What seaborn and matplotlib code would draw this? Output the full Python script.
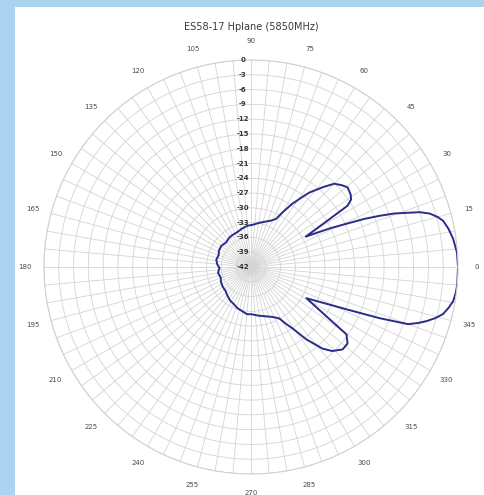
import numpy as np
import pandas as pd
import matplotlib
matplotlib.use("Agg")
import matplotlib.pyplot as plt
import matplotlib.transforms as mtransforms
from matplotlib.patches import Rectangle
import seaborn as sns

# ---- data ----
title = "ES58-17 Hplane (5850MHz)"
angles_deg = [0, 4, 8, 11, 13.5, 15, 16.6, 18, 19.2, 20.5, 21.7, 23, 24.4, 26, 27.5, 29,
              31.1, 32.4, 34, 36, 39.5, 42, 45, 48, 51.9, 54, 56.9, 60, 62.5, 67, 72,
              79.7, 87, 95, 103, 112, 120, 127, 135, 145, 153, 160, 168, 175, 182, 190,
              199.5, 206, 215, 223.5, 230, 238, 245, 252, 258, 265, 271, 279, 286, 293,
              298.8, 301.5, 304, 307.4, 311.2, 314, 318, 321.6, 324.8, 326.8, 330.6,
              334, 336.1, 338.3, 340, 341.5, 342.9, 344.5, 346.2, 348.5, 350.4, 353,
              355.3, 360]
gain_db = [0.0, -0.1, -0.6, -1.2, -1.9, -2.8, -4.1, -6.0, -8.6, -11.0, -13.9, -17.0, -20.8,
           -24.0, -27.0, -29.3, -24.3, -18.8, -17.5, -17.0, -16.6, -17.2, -18.1, -20.2,
           -22.8, -24.6, -26.7, -29.2, -31.0, -31.8, -32.3, -32.9, -33.4, -33.6, -34.0,
           -34.4, -34.5, -34.6, -34.9, -34.6, -34.7, -35.0, -34.8, -35.1, -35.6, -35.2,
           -35.5, -35.2, -35.0, -34.9, -34.5, -34.0, -33.7, -33.2, -32.9, -32.4, -32.4,
           -32.0, -31.6, -31.0, -30.1, -28.5, -27.0, -23.5, -20.0, -18.3, -17.0, -17.0,
           -18.3, -23.7, -29.1, -25.0, -20.8, -13.9, -8.1, -6.2, -4.7, -3.2, -1.9, -1.0,
           -0.4, -0.1, 0.0, 0.0]
angle_labels = [0, 15, 30, 45, 60, 75, 90, 105, 120, 135, 150, 165, 180, 195, 210,
                225, 240, 255, 270, 285, 300, 315, 330, 345]
radial_ticks = [0, -3, -6, -9, -12, -15, -18, -21, -24, -27, -30, -33, -36, -39, -42]

df = pd.DataFrame({"theta": np.deg2rad(angles_deg), "gain": gain_db})

W, H = 485, 495
fig = plt.figure(figsize=(W / 100, H / 100), dpi=100, facecolor="#acd4f1")
fig.patches.append(Rectangle((15 / W, 0), 1 - 15 / W, 1 - 7 / H,
                             transform=fig.transFigure, facecolor="white",
                             edgecolor="none", zorder=-10))

cx, cy, R = 251, 267, 207
ax = fig.add_axes([(cx - R) / W, (H - cy - R) / H, 2 * R / W, 2 * R / H],
                  projection="polar")
ax.set_zorder(5)
ax.set_facecolor("none")

sns.lineplot(data=df, x="theta", y="gain", ax=ax, sort=False, color="#2b2b8c",
             linewidth=1.4, legend=False)

ax.set_ylim(-42, 0)
ax.set_rticks(radial_ticks)
ax.set_yticklabels([])
ax.set_xlabel("")
ax.set_ylabel("")

grid_angles = np.arange(0, 360, 5)
labels = [str(a) if a in angle_labels else "" for a in grid_angles]
ax.set_thetagrids(grid_angles, labels=labels, fontsize=5, color="#4a4a4a")
ax.tick_params(axis="x", pad=3)
ax.grid(True, color="#d4d4d4", linewidth=0.6)
ax.spines["polar"].set_color("#d0d0d0")
ax.spines["polar"].set_linewidth(0.8)

off = mtransforms.offset_copy(ax.transData, fig=fig, x=-6, y=0, units="points")
for r in radial_ticks:
    ax.text(np.pi / 2, r, str(r), transform=off, ha="center", va="center",
            fontsize=5, fontweight="semibold", color="#333333")

fig.text(cx / W, 1 - 27 / H, title, ha="center", va="center", fontsize=7,
         color="#3a3a3a")

fig.savefig("out.png", dpi=100, facecolor=fig.get_facecolor())
